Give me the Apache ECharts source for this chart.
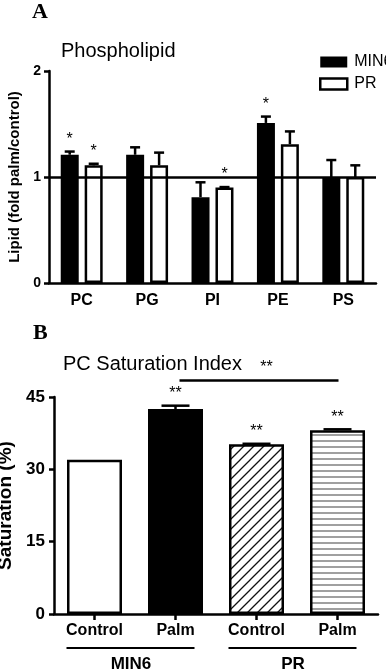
<!DOCTYPE html>
<html>
<head>
<meta charset="utf-8">
<script src="https://cdn.jsdelivr.net/npm/echarts@6/dist/echarts.min.js"></script>
<style>
html,body{margin:0;padding:0;background:#fff;}
#chart{width:386px;height:671px;}
</style>
</head>
<body>
<div id="chart"></div>
<script>
// ---------- Panel A data ----------
const catsA = ['PC', 'PG', 'PI', 'PE', 'PS'];
const min6Vals = [1.21, 1.21, 0.81, 1.51, 1.0];
const min6Err = [0.03, 0.07, 0.14, 0.06, 0.16];
const min6Sig = ['*', '', '', '*', ''];
const prVals = [1.11, 1.11, 0.9, 1.31, 1.0];
const prErr = [0.015, 0.12, 0.005, 0.12, 0.11];
const prSig = ['*', '', '*', '', ''];
const ticksA = [0, 1, 2];
const refLineA = 1;

// ---------- Panel B data ----------
const catsB = ['Control', 'Palm', 'Control', 'Palm'];
const groupOfB = ['MIN6', 'MIN6', 'PR', 'PR'];
const satVals = [32.0, 42.5, 35.2, 38.1];
const satErr = [0, 0.7, 0.1, 0.2];
const satSig = ['', '**', '**', '**'];
const ticksB = [0, 15, 30, 45];
const groupsB = [['MIN6', 0, 1], ['PR', 2, 3]];
const bracketB = [[1, 3, 48.4, '**']];

const FONT = 'Liberation Sans, Arial, sans-serif';

function hatchDiag() {
  const c = document.createElement('canvas');
  c.width = 10; c.height = 10;
  const g = c.getContext('2d');
  g.fillStyle = '#fff'; g.fillRect(0, 0, 10, 10);
  g.strokeStyle = '#111'; g.lineWidth = 1.3;
  g.beginPath();
  g.moveTo(-1, 11); g.lineTo(11, -1);
  g.moveTo(-6, 6); g.lineTo(6, -6);
  g.moveTo(4, 16); g.lineTo(16, 4);
  g.stroke();
  return c;
}
function hatchHoriz() {
  const c = document.createElement('canvas');
  c.width = 10; c.height = 6;
  const g = c.getContext('2d');
  g.fillStyle = '#fff'; g.fillRect(0, 0, 10, 6);
  g.strokeStyle = '#777'; g.lineWidth = 1.4;
  g.beginPath(); g.moveTo(0, 3); g.lineTo(10, 3); g.stroke();
  return c;
}
const fillsB = ['#ffffff', '#000000',
  {image: hatchDiag(), repeat: 'repeat'},
  {image: hatchHoriz(), repeat: 'repeat'}];

function errRender(vals, errs, sigs, offset, capW, sigGap, sigSize) {
  return function (params, api) {
    const i = params.dataIndex;
    const x = api.coord([api.value(0), 0])[0] + offset;
    const yTop = api.coord([api.value(0), vals[i]])[1];
    const yErr = api.coord([api.value(0), vals[i] + errs[i]])[1];
    const ch = [];
    if (errs[i] > 0) {
      ch.push({type: 'line', shape: {x1: x, y1: yTop, x2: x, y2: yErr},
        style: {stroke: '#000', lineWidth: 2.5}});
      ch.push({type: 'line', shape: {x1: x - capW / 2, y1: yErr, x2: x + capW / 2, y2: yErr},
        style: {stroke: '#000', lineWidth: 2.5}});
    }
    if (sigs[i]) {
      ch.push({type: 'text', x: x, y: yErr - sigGap,
        style: {text: sigs[i], fill: '#000', font: sigSize + 'px ' + FONT,
          align: 'center', verticalAlign: 'middle'}});
    }
    return {type: 'group', children: ch};
  };
}

const chart = echarts.init(document.getElementById('chart'), null, {renderer: 'canvas'});

const option = {
  backgroundColor: '#fff',
  animation: false,
  title: [
    {text: 'Phospholipid', left: 56, top: 36,
      textStyle: {fontFamily: FONT, fontSize: 20, fontWeight: 'normal', color: '#000'}},
    {text: 'PC Saturation Index', left: 58, top: 349,
      textStyle: {fontFamily: FONT, fontSize: 20, fontWeight: 'normal', color: '#000'}}
  ],
  graphic: [
    {type: 'text', left: 32, top: 1,
      style: {text: 'A', font: 'bold 22px Liberation Serif, Times New Roman, serif', fill: '#000'}},
    {type: 'text', left: 33, top: 322,
      style: {text: 'B', font: 'bold 22px Liberation Serif, Times New Roman, serif', fill: '#000'}}
  ],
  legend: {
    orient: 'vertical', left: 314, top: 49, itemWidth: 27, itemHeight: 11, itemGap: 6,
    textStyle: {fontFamily: FONT, fontSize: 16, color: '#000', padding: [0, 0, 0, 2]},
    data: [
      {name: 'MIN6', icon: 'rect', itemStyle: {color: '#000', borderColor: '#000', borderWidth: 0}},
      {name: 'PR', icon: 'rect', itemStyle: {color: '#fff', borderColor: '#000', borderWidth: 2.5}}
    ]
  },
  grid: [
    {left: 49, top: 71, width: 327, height: 212, containLabel: false, outerBoundsMode: 'none'},
    {left: 54, top: 397, width: 324, height: 217, containLabel: false, outerBoundsMode: 'none'}
  ],
  xAxis: [
    {type: 'category', gridIndex: 0, data: catsA,
      axisLine: {lineStyle: {color: '#000', width: 2.5}},
      axisTick: {show: false},
      axisLabel: {fontFamily: FONT, fontSize: 16, fontWeight: 'bold', color: '#000', margin: 10}},
    {type: 'category', gridIndex: 1, data: catsB.map((c, i) => groupOfB[i] + ' ' + c),
      axisLine: {lineStyle: {color: '#000', width: 2.5}},
      axisTick: {show: true, alignWithLabel: true, length: 6, lineStyle: {width: 2.5, color: '#000'}},
      axisLabel: {fontFamily: FONT, fontSize: 16, fontWeight: 'bold', color: '#000', margin: 9,
        formatter: (v, i) => catsB[i]}}
  ],
  yAxis: [
    {type: 'value', gridIndex: 0, min: ticksA[0], max: ticksA[ticksA.length - 1], interval: 1,
      name: 'Lipid (fold palm/control)', nameLocation: 'middle', nameGap: 26,
      nameTextStyle: {fontFamily: FONT, fontSize: 15, fontWeight: 'bold', color: '#000'},
      axisLine: {show: true, lineStyle: {color: '#000', width: 2.5}},
      axisTick: {show: true, length: 5, lineStyle: {width: 2.5, color: '#000'}},
      splitLine: {show: false},
      axisLabel: {fontFamily: FONT, fontSize: 14, fontWeight: 'bold', color: '#000', margin: 8}},
    {type: 'value', gridIndex: 1, min: ticksB[0], max: ticksB[ticksB.length - 1], interval: 15,
      name: 'Saturation (%)', nameLocation: 'middle', nameGap: 38,
      nameTextStyle: {fontFamily: FONT, fontSize: 19, fontWeight: 'bold', color: '#000'},
      axisLine: {show: true, lineStyle: {color: '#000', width: 2.5}},
      axisTick: {show: true, length: 5, lineStyle: {width: 2.5, color: '#000'}},
      splitLine: {show: false},
      axisLabel: {fontFamily: FONT, fontSize: 17, fontWeight: 'bold', color: '#000', margin: 9}}
  ],
  series: [
    {name: 'MIN6', type: 'bar', xAxisIndex: 0, yAxisIndex: 0, data: min6Vals,
      barWidth: 18, barGap: '33%',
      itemStyle: {color: '#000'},
      markLine: {silent: true, symbol: 'none', label: {show: false},
        lineStyle: {color: '#000', width: 2.5, type: 'solid'},
        data: [{yAxis: refLineA}]}},
    {name: 'PR', type: 'bar', xAxisIndex: 0, yAxisIndex: 0, data: prVals,
      barWidth: 18, barGap: '33%',
      itemStyle: {color: '#fff', borderColor: '#000', borderWidth: 2.5}},
    {type: 'custom', xAxisIndex: 0, yAxisIndex: 0, z: 5,
      data: catsA.map((c, i) => [i, min6Vals[i]]),
      renderItem: errRender(min6Vals, min6Err, min6Sig, -12, 10, 12, 16)},
    {type: 'custom', xAxisIndex: 0, yAxisIndex: 0, z: 5,
      data: catsA.map((c, i) => [i, prVals[i]]),
      renderItem: errRender(prVals, prErr, prSig, 12, 10, 12, 16)},
    {type: 'bar', xAxisIndex: 1, yAxisIndex: 1, barWidth: 55,
      data: satVals.map((v, i) => ({value: v, itemStyle: {color: fillsB[i]}})),
      itemStyle: {borderColor: '#000', borderWidth: 2.5}},
    {type: 'custom', xAxisIndex: 1, yAxisIndex: 1, z: 5,
      data: satVals.map((v, i) => [i, v]),
      renderItem: errRender(satVals, satErr, satSig, 0, 28, 12, 16)},
    {type: 'custom', xAxisIndex: 1, yAxisIndex: 1, z: 5,
      data: bracketB.map(b => [b[0], b[2]]),
      renderItem: function (params, api) {
        const b = bracketB[params.dataIndex];
        const p1 = api.coord([b[0], b[2]]);
        const p2 = api.coord([b[1], b[2]]);
        return {type: 'group', children: [
          {type: 'line', shape: {x1: p1[0] + 4, y1: p1[1], x2: p2[0] + 1, y2: p2[1]},
            style: {stroke: '#000', lineWidth: 2.5}},
          {type: 'text', x: (p1[0] + p2[0]) / 2 + 10, y: p1[1] - 13,
            style: {text: b[3], fill: '#000', font: '16px ' + FONT, align: 'center', verticalAlign: 'middle'}}
        ]};
      }},
    {type: 'custom', xAxisIndex: 1, yAxisIndex: 1, z: 5,
      data: groupsB.map(g => [g[1], 0]),
      renderItem: function (params, api) {
        const g = groupsB[params.dataIndex];
        const a = api.coord([g[1], 0]);
        const b = api.coord([g[2], 0]);
        const y = a[1] + 34;
        return {type: 'group', children: [
          {type: 'line', shape: {x1: a[0] - 28, y1: y, x2: b[0] + 19, y2: y},
            style: {stroke: '#000', lineWidth: 1.8}},
          {type: 'text', x: (a[0] + b[0]) / 2 - 4, y: y + 16,
            style: {text: g[0], fill: '#000', font: 'bold 17px ' + FONT, align: 'center', verticalAlign: 'middle'}}
        ]};
      }}
  ]
};
chart.setOption(option);
</script>
</body>
</html>
